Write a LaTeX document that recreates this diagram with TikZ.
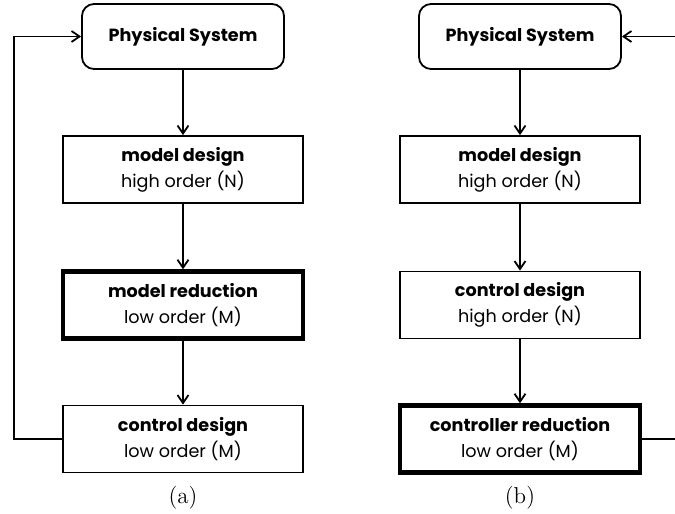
\documentclass[tikz,border=0pt]{standalone}
\usepackage{fontspec}
\setsansfont{Poppins}
\usetikzlibrary{arrows.meta}
\begin{document}
\begin{tikzpicture}[x=0.5pt,y=-0.5pt,
  blockbox/.style={draw, line width=0.9pt, minimum width=120pt, minimum height=33.5pt,
    align=center, inner sep=0pt, font=\sffamily\fontsize{8.8}{13}\selectfont},
  heavybox/.style={blockbox, line width=2.2pt},
  roundbox/.style={blockbox, rounded corners=6pt, minimum width=101pt, minimum height=32.5pt},
  conn/.style={line width=0.9pt, -{Straight Barb[length=4pt,width=5.5pt]}},
  caption/.style={font=\rmfamily\fontsize{11.5}{13}\selectfont, inner sep=0pt}]
\useasboundingbox (0,0) rectangle (675,514);
% column (a)
\node[roundbox] (ps1) at (183,36.5) {\textbf{Physical System}};
\node[blockbox] (md1) at (183,169.5) {\textbf{model design}\\high order (N)};
\node[heavybox] (mr1) at (183,305) {\textbf{model reduction}\\low order (M)};
\node[blockbox] (cd1) at (183,439) {\textbf{control design}\\low order (M)};
\node[caption] (ca) at (183,498) {(a)};
\coordinate (fbl) at (14,200);
\draw[conn] (ps1) -- (md1);
\draw[conn] (md1) -- (mr1);
\draw[conn] (mr1) -- (cd1);
\draw[conn] (cd1.west) -| (fbl) |- (ps1.west);
% column (b)
\node[roundbox] (ps2) at (520,36.5) {\textbf{Physical System}};
\node[blockbox] (md2) at (520,169.5) {\textbf{model design}\\high order (N)};
\node[blockbox] (cd2) at (520,305) {\textbf{control design}\\high order (N)};
\node[heavybox] (cr2) at (520,439) {\textbf{controller reduction}\\low order (M)};
\node[caption] (cb) at (520,498) {(b)};
\coordinate (fbr) at (678,200);
\draw[conn] (ps2) -- (md2);
\draw[conn] (md2) -- (cd2);
\draw[conn] (cd2) -- (cr2);
\draw[conn] (cr2.east) -| (fbr) |- (ps2.east);
\end{tikzpicture}
\end{document}
